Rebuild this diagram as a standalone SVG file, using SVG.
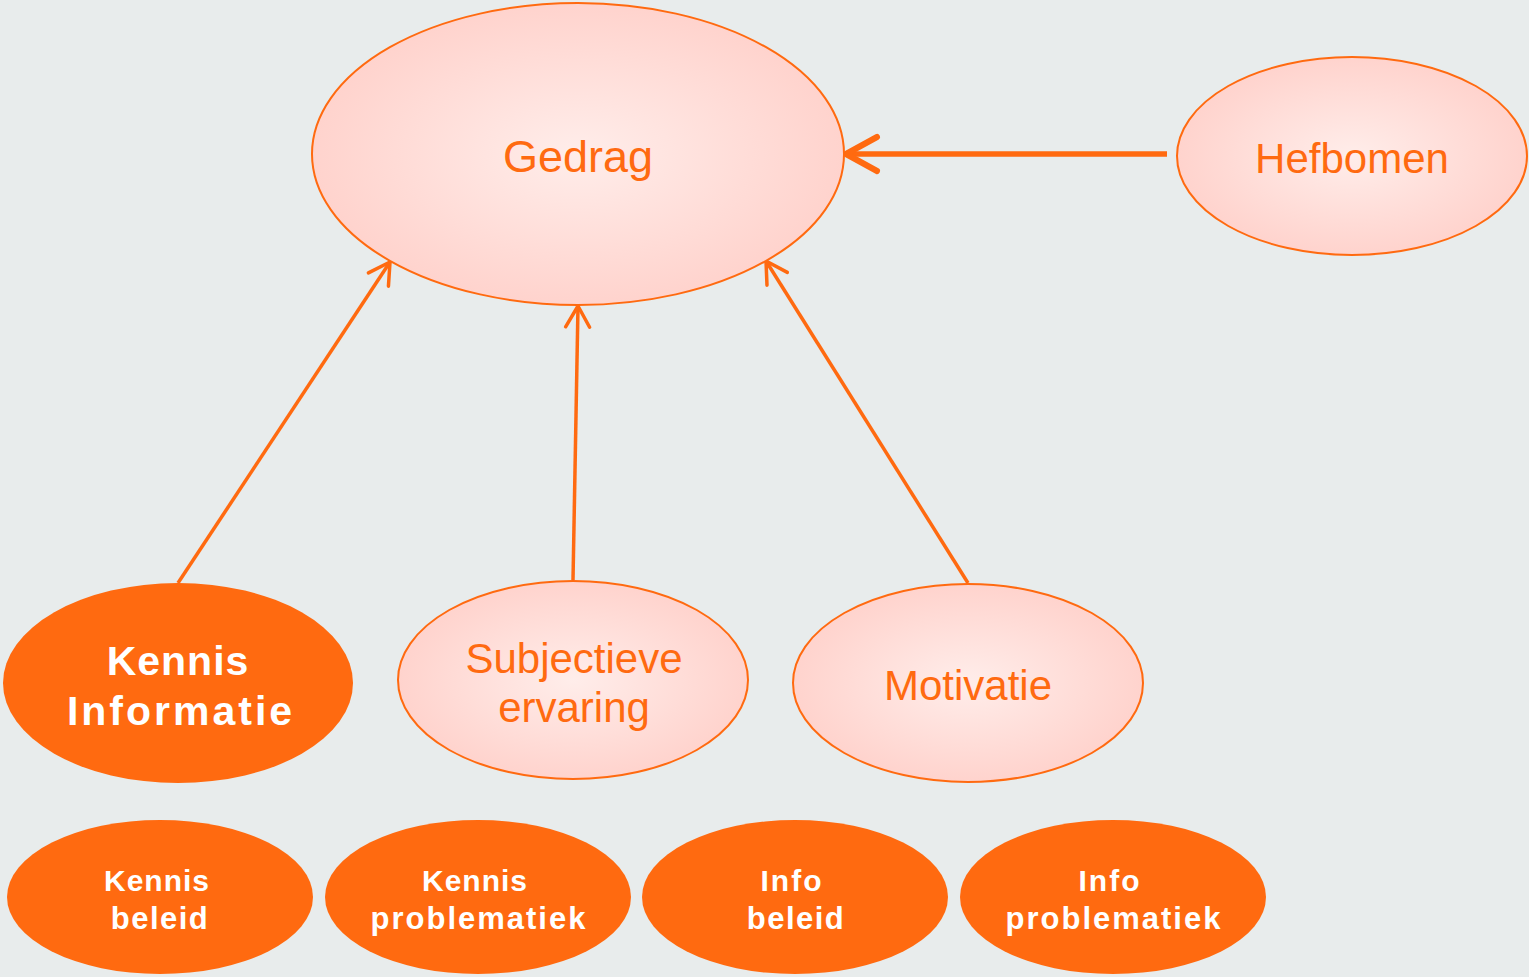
<svg xmlns="http://www.w3.org/2000/svg" width="1529" height="977" viewBox="0 0 1529 977">
<defs>
<radialGradient id="pink" cx="50%" cy="50%" r="50%">
<stop offset="0" stop-color="#FFEDEA"/>
<stop offset="1" stop-color="#FFD3CD"/>
</radialGradient>
<marker id="ah" viewBox="0 0 12 12" refX="11" refY="6" markerWidth="12" markerHeight="12" markerUnits="userSpaceOnUse" orient="auto" overflow="visible">
<path d="M-10,-6 L11,6 L-10,18" fill="none" stroke="#FF6A10" stroke-width="3.5" stroke-linecap="round" stroke-linejoin="round"/>
</marker>
<marker id="ahb" viewBox="0 0 12 12" refX="11" refY="6" markerWidth="12" markerHeight="12" markerUnits="userSpaceOnUse" orient="auto" overflow="visible">
<path d="M-20,-11 L11,6 L-20,23" fill="none" stroke="#FF6A10" stroke-width="6" stroke-linecap="round" stroke-linejoin="round"/>
</marker>
</defs>
<style>
.soft{fill:url(#pink);stroke:#FF6A10;stroke-width:2}
.solid{fill:#FF6A10}
.lbl{font-family:"Liberation Sans",Arial,sans-serif;fill:#FF6A10;font-size:42px;text-anchor:middle}
.wb{font-family:"Liberation Sans",Arial,sans-serif;fill:#FFFFFF;font-weight:bold;text-anchor:middle}
.conn{stroke:#FF6A10;fill:none}
</style>
<rect width="1529" height="977" fill="#E8ECEC"/>
<g id="connectors">
<line class="conn" x1="1167" y1="154" x2="846" y2="154" stroke-width="5.5" marker-end="url(#ahb)"/>
<line class="conn" x1="178" y1="583" x2="390" y2="262" stroke-width="3.5" marker-end="url(#ah)"/>
<line class="conn" x1="573" y1="580" x2="578" y2="306" stroke-width="3.5" marker-end="url(#ah)"/>
<line class="conn" x1="968" y1="583" x2="766" y2="261" stroke-width="3.5" marker-end="url(#ah)"/>
</g>
<g id="gedrag">
<ellipse class="soft" cx="578" cy="154" rx="266" ry="151"/>
<text class="lbl" x="578" y="172" style="font-size:45px">Gedrag</text>
</g>
<g id="hefbomen">
<ellipse class="soft" cx="1352" cy="156" rx="175" ry="99"/>
<text class="lbl" x="1352" y="173">Hefbomen</text>
</g>
<g id="kennis-informatie">
<ellipse class="solid" cx="178" cy="683" rx="175" ry="100"/>
<text class="wb" x="178" y="675" style="font-size:41px;letter-spacing:1px">Kennis</text>
<text class="wb" x="181" y="725" style="font-size:41px;letter-spacing:3px">Informatie</text>
</g>
<g id="subjectieve-ervaring">
<ellipse class="soft" cx="573" cy="680" rx="175" ry="99"/>
<text class="lbl" x="574" y="673">Subjectieve</text>
<text class="lbl" x="574" y="722">ervaring</text>
</g>
<g id="motivatie">
<ellipse class="soft" cx="968" cy="683" rx="175" ry="99"/>
<text class="lbl" x="968" y="700">Motivatie</text>
</g>
<g id="kennis-beleid">
<ellipse class="solid" cx="160" cy="897" rx="153" ry="77"/>
<text class="wb" x="157" y="891" style="font-size:30px;letter-spacing:1px">Kennis</text>
<text class="wb" x="160" y="929" style="font-size:31px;letter-spacing:1.5px">beleid</text>
</g>
<g id="kennis-problematiek">
<ellipse class="solid" cx="478" cy="897" rx="153" ry="77"/>
<text class="wb" x="475" y="891" style="font-size:30px;letter-spacing:1px">Kennis</text>
<text class="wb" x="479" y="929" style="font-size:31px;letter-spacing:2px">problematiek</text>
</g>
<g id="info-beleid">
<ellipse class="solid" cx="795" cy="897" rx="153" ry="77"/>
<text class="wb" x="792" y="891" style="font-size:30px;letter-spacing:2px">Info</text>
<text class="wb" x="796" y="929" style="font-size:31px;letter-spacing:1.5px">beleid</text>
</g>
<g id="info-problematiek">
<ellipse class="solid" cx="1113" cy="897" rx="153" ry="77"/>
<text class="wb" x="1110" y="891" style="font-size:30px;letter-spacing:2px">Info</text>
<text class="wb" x="1114" y="929" style="font-size:31px;letter-spacing:2px">problematiek</text>
</g>
</svg>
